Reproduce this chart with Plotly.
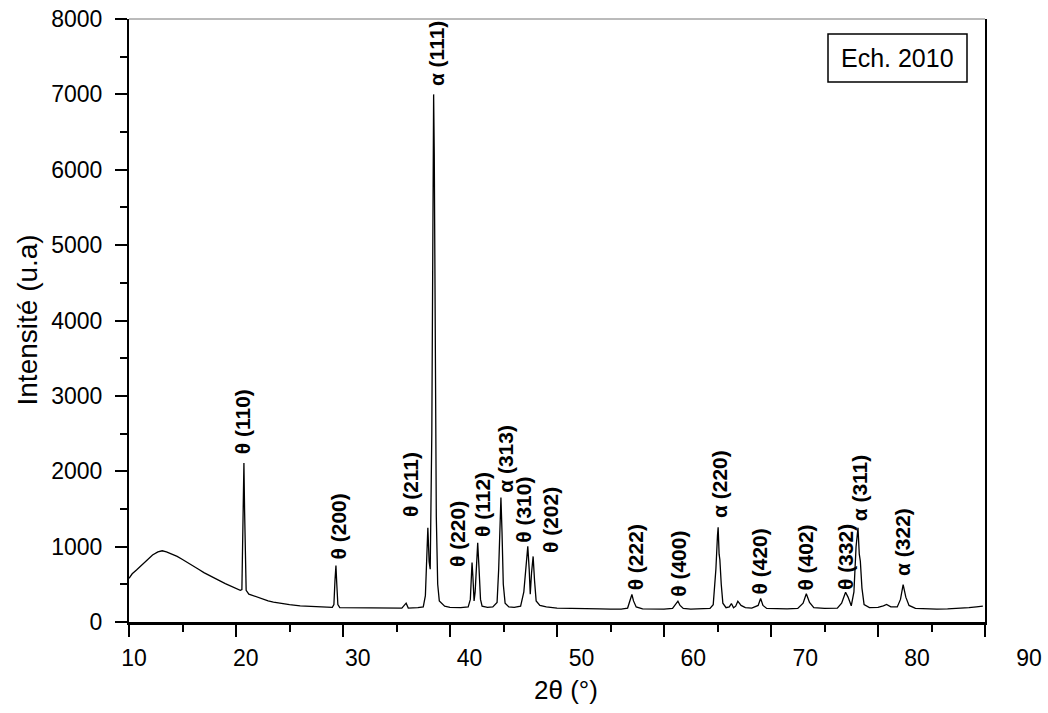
import plotly.graph_objects as go

# ---------------- data ----------------
two_theta = [
    10.0, 10.3, 10.7, 11.2, 11.7, 12.2, 12.7, 13.1, 13.5, 14.0, 14.5, 15.0, 15.5, 16.0,
    16.5, 17.0, 17.5, 18.0, 18.5, 19.0, 19.5, 20.0, 20.4, 20.55,
    20.62, 20.68, 20.74, 20.80, 20.86, 20.95, 21.2, 21.6, 22.0, 22.5, 23.0, 23.5, 24.0,
    25.0, 26.0, 27.0, 28.0, 29.0, 29.15,
    29.25, 29.34, 29.42, 29.52, 29.7, 30.5, 31.5, 32.5, 33.5, 34.5, 35.5, 35.9, 36.1,
    37.0, 37.5, 37.7,
    37.82, 37.93, 38.05, 38.15,
    38.3, 38.40, 38.47, 38.53, 38.62, 38.72, 38.85, 39.0, 39.5, 40.0, 41.0, 41.7,
    41.9, 42.0, 42.06, 42.14, 42.25,
    42.35, 42.48, 42.59, 42.7, 42.85, 43.0, 43.5, 44.0, 44.4,
    44.55, 44.66, 44.76, 44.86, 44.98, 45.15, 45.5, 46.0, 46.6, 46.9,
    47.1, 47.27, 47.4, 47.5,
    47.62, 47.77, 47.9, 48.05, 48.4, 49.0, 50.0, 51.0, 52.0, 53.0, 54.0, 55.0, 56.0,
    56.6, 56.85,
    57.0, 57.15, 57.4, 58.0, 59.0, 60.0, 60.8, 61.1, 61.3, 61.5, 61.8, 62.5, 63.5, 64.3,
    64.6, 64.85, 65.0, 65.06, 65.15, 65.22, 65.35, 65.5, 65.8, 66.1, 66.3, 66.5, 66.7,
    66.9, 67.2, 67.6, 68.2, 68.8, 69.03, 69.25, 69.6, 70.5, 71.5, 72.5, 73.0, 73.3, 73.6,
    74.0, 75.0, 76.2, 76.6, 76.97, 77.2, 77.5, 77.75, 77.95, 78.13, 78.25, 78.35, 78.5,
    78.7, 79.2, 80.0, 80.5, 80.8, 81.2, 81.8, 82.1, 82.35, 82.6, 82.9, 83.5, 84.5, 85.5,
    86.5, 87.5, 88.5, 89.2, 89.8,
]
intensity = [
    580, 640, 690, 760, 830, 890, 930, 945, 930, 905, 870, 830, 790, 745,
    700, 655, 615, 580, 545, 510, 480, 450, 420, 430,
    900, 1700, 2110, 1500, 700, 420, 370, 350, 320, 300, 280, 265, 250,
    230, 215, 205, 200, 195, 230,
    550, 750, 500, 230, 190, 190, 185, 180, 180, 182, 185, 250, 185,
    190, 200, 350,
    900, 1250, 800, 700,
    2500, 6000, 7000, 6200, 3500, 1400, 500, 280, 210, 195, 190, 200,
    300, 650, 790, 600, 280,
    400, 850, 1050, 750, 300, 210, 195, 200, 260,
    700, 1400, 1650, 1200, 500, 250, 200, 195, 210, 400,
    800, 1005, 700, 370,
    650, 870, 550, 280, 220, 200, 185, 180, 178, 175, 175, 172, 172,
    185, 280,
    365, 280, 200, 175, 172, 172, 180, 230, 276, 220, 180, 172, 175, 180,
    230, 700, 1150, 1257, 900, 830, 500, 250, 190, 200, 245, 190, 210,
    276, 220, 190, 185, 220, 311, 220, 180, 175, 175, 180, 250, 374, 260,
    190, 180, 185, 250, 395, 330, 215, 400, 1000, 1249, 900, 806, 450,
    230, 190, 195, 215, 232, 200, 200, 300, 497, 330, 220, 180, 175, 172,
    175, 180, 190, 200, 210,
]

peak_labels = [
    "θ (110)", "θ (200)", "θ (211)", "α (111)", "θ (220)", "θ (112)", "α (313)",
    "θ (310)", "θ (202)", "θ (222)", "θ (400)", "α (220)", "θ (420)", "θ (402)",
    "θ (332)", "α (311)", "α (322)",
]
peak_label_x = [20.6, 29.55, 36.32, 38.68, 40.76, 43.05, 45.17, 46.87, 49.39,
                57.3, 61.4, 65.18, 68.9, 73.25, 76.9, 78.25, 82.35]
peak_label_y = [2198, 806, 1368, 7088, 705, 1103, 1691, 1018, 895,
                395, 308, 1359, 342, 387, 395, 1306, 586]

x_tick_values = [10, 20, 30, 40, 50, 60, 70, 80, 90]
sample_name = "Ech. 2010"
x_title = "2θ (°)"
y_title = "Intensité (u.a)"

# ---------------- layout geometry ----------------
W, H = 1048, 713
L, R, T, B = 129, 6, 19, 91
plot_w = W - L - R
plot_h = H - T - B
main_w = 856
main_end = main_w / plot_w
lab_start = (134 - L) / plot_w
lab_end = (1029 - L) / plot_w
y0_px = H - B  # pixel row of y = 0

FONT = "Liberation Sans, Arial, sans-serif"

fig = go.Figure()
fig.add_trace(go.Scatter(
    x=two_theta, y=intensity, mode="lines",
    line=dict(color="black", width=1.3),
    showlegend=False, hoverinfo="skip",
))
# carrier trace for the (slightly stretched) tick-label axis
fig.add_trace(go.Scatter(
    x=[x_tick_values[0], x_tick_values[-1]], y=[0, 0], xaxis="x2", yaxis="y",
    mode="lines", line=dict(width=0), opacity=0, showlegend=False, hoverinfo="skip",
))

for txt, lx, ly in zip(peak_labels, peak_label_x, peak_label_y):
    fig.add_annotation(
        x=lx, y=ly, xref="x", yref="y", text=f"<b>{txt}</b>", showarrow=False,
        textangle=-90, xanchor="center", yanchor="bottom",
        font=dict(family=FONT, size=21, color="black"),
    )

# sample name box
fig.add_shape(type="rect", xref="x domain", yref="y domain",
              x0=(828 - L) / main_w, x1=(967 - L) / main_w,
              y0=(y0_px - 82) / plot_h, y1=(y0_px - 34) / plot_h,
              line=dict(color="black", width=1.5), fillcolor="white")
fig.add_annotation(xref="x domain", yref="y domain",
                   x=(897.5 - L) / main_w, y=(y0_px - 58) / plot_h,
                   text=sample_name, showarrow=False,
                   xanchor="center", yanchor="middle",
                   font=dict(family=FONT, size=25, color="black"))

# thin grey top frame line
fig.add_shape(type="line", xref="x domain", yref="y domain",
              x0=0, x1=1, y0=1, y1=1, line=dict(color="#777777", width=1))

# axis titles
fig.add_annotation(xref="paper", yref="paper",
                   x=(566 - L) / plot_w, y=-(690 - y0_px) / plot_h,
                   text=x_title, showarrow=False, xanchor="center", yanchor="middle",
                   font=dict(family=FONT, size=26, color="black"))
fig.add_annotation(xref="paper", yref="paper",
                   x=(27 - L) / plot_w, y=0.5,
                   text=y_title, showarrow=False, textangle=-90,
                   xanchor="center", yanchor="middle",
                   font=dict(family=FONT, size=28, color="black"))

fig.update_layout(
    width=W, height=H,
    margin=dict(l=L, r=R, t=T, b=B, pad=0, autoexpand=False),
    paper_bgcolor="white", plot_bgcolor="rgba(0,0,0,0)",
    font=dict(family=FONT, color="black"),
    xaxis=dict(
        domain=[0, main_end], range=[10, 90], dtick=10, tick0=10,
        showticklabels=False, ticks="outside", ticklen=12, tickwidth=2, tickcolor="black",
        minor=dict(dtick=5, tick0=10, ticks="outside", ticklen=7, tickwidth=2, tickcolor="black"),
        showline=True, linewidth=3, linecolor="black", mirror=False,
        showgrid=False, zeroline=False, anchor="y", automargin=False,
    ),
    xaxis2=dict(
        domain=[lab_start, lab_end], range=[10, 90], tickvals=x_tick_values,
        ticks="", showline=False, showgrid=False, zeroline=False, anchor="y",
        tickfont=dict(family=FONT, size=23, color="black"), ticklabelstandoff=20,
        automargin=False,
    ),
    yaxis=dict(
        range=[0, 8000], dtick=1000, tick0=0,
        ticks="outside", ticklen=12, tickwidth=2, tickcolor="black",
        minor=dict(dtick=500, ticks="outside", ticklen=7, tickwidth=2, tickcolor="black"),
        showline=True, linewidth=2, linecolor="black", mirror=True,
        showgrid=False, zeroline=False,
        tickfont=dict(family=FONT, size=23, color="black"), ticklabelstandoff=8,
        anchor="x", automargin=False,
    ),
)

fig.write_html(
    "out.html",
    config={"displayModeBar": False},
    post_script="document.body.style.margin='0';document.body.style.overflow='hidden';",
)
